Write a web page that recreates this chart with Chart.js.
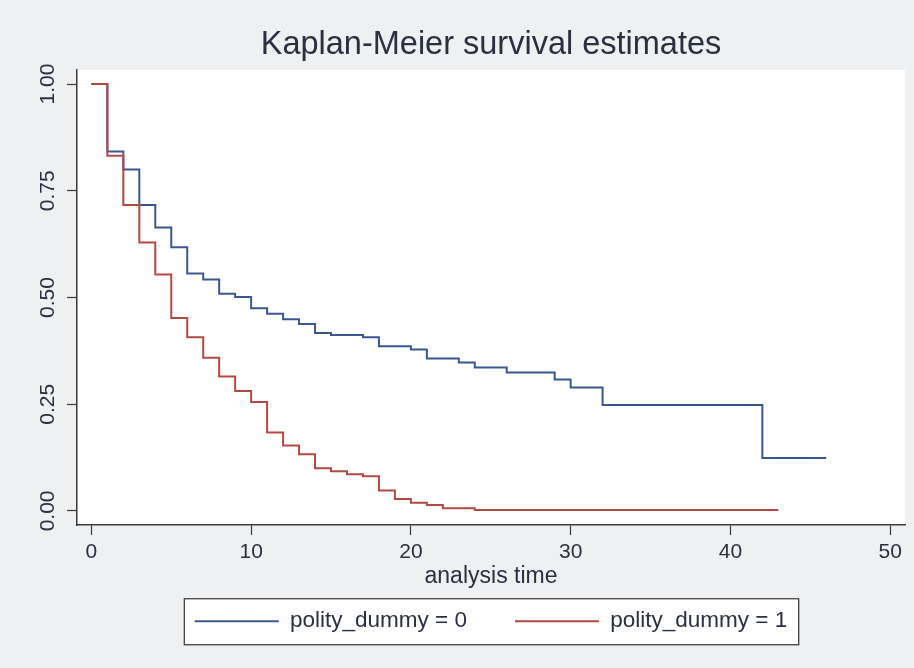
<!DOCTYPE html>
<html>
<head>
<meta charset="utf-8">
<script src="https://cdn.jsdelivr.net/npm/chart.js@4.4.1/dist/chart.umd.min.js"></script>
<style>
  html, body { margin: 0; padding: 0; background: #eef0f2; }
  canvas { display: block; }
</style>
</head>
<body>
<canvas id="kmChart" width="914" height="668"></canvas>
<script>
const blueTimes = [0, 1, 2, 3, 4, 5, 6, 7, 8, 9, 10, 11, 12, 13, 14, 15, 17, 18, 20, 21, 23, 24, 26, 29, 30, 32, 42, 46];
const blueSurv = [1, 0.842, 0.800, 0.717, 0.664, 0.618, 0.556, 0.542, 0.509, 0.501, 0.475, 0.462, 0.449, 0.438, 0.417, 0.412, 0.407, 0.386, 0.378, 0.357, 0.348, 0.336, 0.324, 0.308, 0.289, 0.248, 0.124, 0.124];
const redTimes = [0, 1, 2, 3, 4, 5, 6, 7, 8, 9, 10, 11, 12, 13, 14, 15, 16, 17, 18, 19, 20, 21, 22, 24, 43];
const redSurv = [1, 0.832, 0.717, 0.629, 0.554, 0.452, 0.407, 0.359, 0.315, 0.281, 0.255, 0.184, 0.153, 0.133, 0.100, 0.093, 0.086, 0.081, 0.048, 0.028, 0.019, 0.014, 0.006, 0.002, 0.002];
const seriesLabels = ['polity_dummy = 0', 'polity_dummy = 1'];
const xTicks = [0, 10, 20, 30, 40, 50];
const yTicks = [0, 0.25, 0.5, 0.75, 1];

const FONT = "'Liberation Sans', Arial, Helvetica, sans-serif";
const INK = '#2b3040';
const AXIS = '#3a3a3a';

function toPoints(times, surv) {
  return times.map((t, i) => ({ x: t, y: surv[i] }));
}

// background, white plot region, framed legend, rotated y labels
const stataLook = {
  id: 'stataLook',
  beforeDraw(chart) {
    const { ctx, chartArea: a } = chart;
    ctx.save();
    ctx.fillStyle = '#eef0f2';
    ctx.fillRect(0, 0, chart.width, chart.height);
    ctx.fillStyle = '#ffffff';
    ctx.fillRect(a.left, a.top, a.right - a.left, a.bottom - a.top);
    const box = legendFrame(chart);
    if (box) ctx.fillRect(box.x, box.y, box.w, box.h);
    ctx.restore();
  },
  afterDraw(chart) {
    const { ctx } = chart;
    const box = legendFrame(chart);
    ctx.save();
    if (box) {
      ctx.strokeStyle = '#333';
      ctx.lineWidth = 1.2;
      ctx.strokeRect(box.x + 0.5, box.y + 0.5, box.w, box.h);
    }
    const ys = chart.scales.y;
    ctx.fillStyle = INK;
    ctx.font = '21px ' + FONT;
    ctx.textAlign = 'center';
    ctx.textBaseline = 'middle';
    ys.ticks.forEach(t => {
      ctx.save();
      ctx.translate(48, ys.getPixelForValue(t.value));
      ctx.rotate(-Math.PI / 2);
      ctx.fillText(t.value.toFixed(2), 0, 0);
      ctx.restore();
    });
    ctx.restore();
  }
};

function legendFrame(chart) {
  const hb = chart.legend && chart.legend.legendHitBoxes;
  if (!hb || !hb.length) return null;
  const first = hb[0];
  const last = hb[hb.length - 1];
  const cy = first.top + first.height / 2;
  const x = first.left - 11;
  return { x, y: cy - 23, w: last.left + last.width + 11 - x, h: 46 };
}

new Chart(document.getElementById('kmChart'), {
  type: 'line',
  data: {
    datasets: [{
      label: seriesLabels[0],
      data: toPoints(blueTimes, blueSurv),
      borderColor: '#3a5794',
      backgroundColor: '#3a5794',
      borderWidth: 2,
      stepped: true,
      pointRadius: 0,
      fill: false,
      order: 2
    }, {
      label: seriesLabels[1],
      data: toPoints(redTimes, redSurv),
      borderColor: '#b24a43',
      backgroundColor: '#b24a43',
      borderWidth: 2,
      stepped: true,
      pointRadius: 0,
      fill: false,
      order: 1
    }]
  },
  options: {
    responsive: false,
    animation: false,
    devicePixelRatio: 1,
    layout: { padding: { left: 0, right: 9, top: 0, bottom: 25.5 } },
    plugins: {
      title: {
        display: true,
        fullSize: false,
        text: 'Kaplan-Meier survival estimates',
        color: INK,
        font: { family: FONT, size: 32.5, weight: 'normal' },
        padding: { top: 26, bottom: 5 }
      },
      legend: {
        display: true,
        position: 'bottom',
        fullSize: false,
        labels: {
          color: INK,
          font: { family: FONT, size: 22.5 },
          usePointStyle: true,
          pointStyle: 'line',
          pointStyleWidth: 84,
          padding: 48,
          sort: (a, b) => a.datasetIndex - b.datasetIndex
        }
      },
      tooltip: { enabled: false }
    },
    scales: {
      x: {
        type: 'linear',
        min: -0.9,
        max: 50.93,
        afterBuildTicks: s => { s.ticks = xTicks.map(v => ({ value: v })); },
        afterFit: s => { s.height = 37; },
        ticks: {
          color: INK,
          font: { family: FONT, size: 21 },
          padding: 5,
          maxRotation: 0,
          callback: v => String(v)
        },
        grid: { drawOnChartArea: false, tickLength: 10, tickColor: AXIS, tickWidth: 1.2 },
        border: { display: true, color: AXIS, width: 1.5 },
        title: {
          display: true,
          text: 'analysis time',
          color: INK,
          font: { family: FONT, size: 23 },
          padding: { top: 0, bottom: -28 }
        }
      },
      y: {
        type: 'linear',
        min: -0.033,
        max: 1.033,
        afterBuildTicks: s => { s.ticks = yTicks.map(v => ({ value: v })); },
        afterFit: s => { s.width = 77; },
        ticks: { display: false },
        grid: { drawOnChartArea: false, tickLength: 10, tickColor: AXIS, tickWidth: 1.2 },
        border: { display: true, color: AXIS, width: 1.5 }
      }
    }
  },
  plugins: [stataLook]
});
</script>
</body>
</html>
